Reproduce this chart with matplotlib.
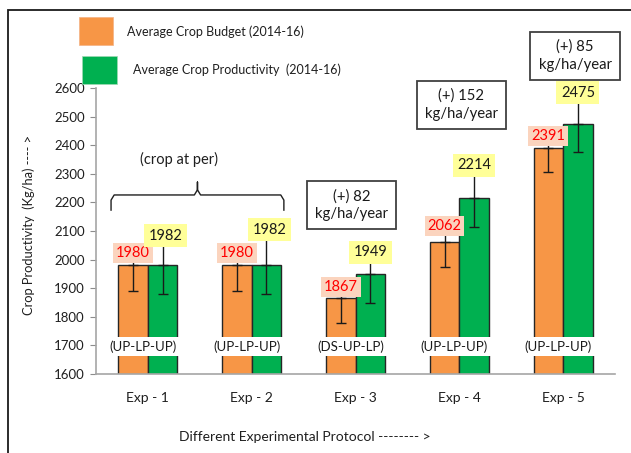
import matplotlib
matplotlib.use("Agg")
import matplotlib.pyplot as plt
from matplotlib.patches import Rectangle
import numpy as np

plt.rcParams['font.family'] = ['Lato', 'DejaVu Sans']

categories = ["Exp - 1", "Exp - 2", "Exp - 3", "Exp - 4", "Exp - 5"]
budget = [1980, 1980, 1867, 2062, 2391]
productivity = [1982, 1982, 1949, 2214, 2475]
budget_err = [89, 89, 87, 87, 85]
prod_err = [101, 101, 100, 101, 99]
protocols = ["(UP-LP-UP)", "(UP-LP-UP)", "(DS-UP-LP)", "(UP-LP-UP)", "(UP-LP-UP)"]
gain_texts = ["(+) 82\nkg/ha/year", "(+) 152\nkg/ha/year", "(+) 85\nkg/ha/year"]
gain_exps = [2, 3, 4]
legend_labels = ["Average Crop Budget (2014-16)", "Average Crop Productivity  (2014-16)"]
brace_text = "(crop at per)"

ORANGE = "#F79646"
GREEN = "#00B050"
TXT = "#1f1f1f"

W, H = 631, 453
fig = plt.figure(figsize=(W / 100, H / 100), dpi=100)

def fx(px):
    return px / W

def fy(py):
    return 1 - py / H

# frame around the figure
fig.patches.append(Rectangle((fx(8), fy(H + 5)), 1.2, fy(10) - fy(H + 5),
                             transform=fig.transFigure, fill=False,
                             edgecolor="#1a1a1a", linewidth=1.3))

ax = fig.add_axes([fx(96), fy(374), fx(615) - fx(96), fy(88) - fy(374)])
x = np.arange(len(categories))
bw = 0.285

ax.bar(x - bw / 2, budget, bw, color=ORANGE, edgecolor="#262626", linewidth=1.0, zorder=2)
ax.bar(x + bw / 2, productivity, bw, color=GREEN, edgecolor="#262626", linewidth=1.0, zorder=2)
ax.errorbar(x - bw / 2, budget, yerr=[budget_err, [0] * len(budget)], fmt="none",
            ecolor="#1a1a1a", elinewidth=1.0, capsize=3.5, capthick=1.0, zorder=3)
ax.errorbar(x + bw / 2, productivity, yerr=[prod_err, [0] * len(productivity)], fmt="none",
            ecolor="#1a1a1a", elinewidth=1.0, capsize=3.5, capthick=1.0, zorder=3)

ax.set_xlim(-0.5, len(categories) - 0.5)
ax.set_ylim(1600, 2600)
ax.set_yticks(np.arange(1600, 2601, 100))
ax.set_xticks(x)
ax.set_xticklabels(categories, fontsize=10, color=TXT)
ax.tick_params(axis="x", length=0, pad=13)
ax.tick_params(axis="y", length=4, width=0.8, color="#8c8c8c", labelsize=9.5,
               labelcolor=TXT, pad=4)
for s in ["top", "right"]:
    ax.spines[s].set_visible(False)
for s in ["left", "bottom"]:
    ax.spines[s].set_color("#a6a6a6")
    ax.spines[s].set_linewidth(1.2)

# value labels (offsets in pixels above bar tops) with leader lines
budget_off = [12, 12, 11, 16, 12]
prod_off = [29, 35, 22, 33, 31]
px_per_unit = ax.get_position().height * H / 1000.0
for i in range(len(categories)):
    xo = x[i] - bw / 2
    xg = x[i] + bw / 2
    ax.annotate(str(budget[i]), (xo, budget[i]), xytext=(0, budget_off[i]),
                textcoords="offset pixels", ha="center", va="center", fontsize=10.5,
                color="#FF0000", zorder=5, annotation_clip=False,
                bbox=dict(boxstyle="square,pad=0.2", fc="#FBD4BE", ec="none"))
    ax.annotate(str(productivity[i]), (xg, productivity[i]),
                xytext=(3 if i < 2 else 0, prod_off[i]),
                textcoords="offset pixels", ha="center", va="center", fontsize=10.5,
                color="#1a1a1a", zorder=5, annotation_clip=False,
                bbox=dict(boxstyle="square,pad=0.3", fc="#FFFF99", ec="none"))
    ax.vlines(xo, budget[i], budget[i] + budget_off[i] / px_per_unit, color="#1a1a1a",
              lw=1.0, zorder=3, clip_on=False)
    ax.vlines(xg, productivity[i], productivity[i] + prod_off[i] / px_per_unit,
              color="#1a1a1a", lw=1.0, zorder=3, clip_on=False)
    ax.annotate(protocols[i], (x[i], 1695), xytext=(-5, 0), textcoords="offset pixels",
                ha="center", va="center", fontsize=9.5, color="#1a1a1a", zorder=5,
                bbox=dict(boxstyle="square,pad=0.25", fc="white", ec="none"))

# gain boxes
gain_y = [2191, 2541, 2712]
gain_dx = [-4, 2, 12]
for t, e, gy, dx in zip(gain_texts, gain_exps, gain_y, gain_dx):
    ax.annotate(t, (x[e], gy), xytext=(dx, 0), textcoords="offset pixels",
                ha="center", va="center", fontsize=10.7,
                color="#1a1a1a", linespacing=1.35, annotation_clip=False, zorder=6,
                bbox=dict(boxstyle="square,pad=0.55", fc="white", ec="#404040", lw=1.3))

# brace over Exp-1 and Exp-2
bx0, bx1 = -0.355, 1.31
bxm = (bx0 + bx1) / 2
by_end, by_bar, by_tip = 2173, 2226, 2271
r = 0.03
brace_x = [bx0, bx0, bx0 + r, bxm - r, bxm, bxm, bxm, bxm + r, bx1 - r, bx1, bx1]
brace_y = [by_end, by_bar - 18, by_bar, by_bar, by_bar + 18, by_tip, by_bar + 18,
           by_bar, by_bar, by_bar - 18, by_end]
ax.plot(brace_x, brace_y, color=TXT, lw=1.0, clip_on=False)
ax.text(0.298, 2350, brace_text, ha="center", va="center", fontsize=10.5, color=TXT)

fig.text(fx(29), fy(225), "Crop Productivity  (Kg/ha) ---- >", rotation=90,
         ha="center", va="center", fontsize=9.3, color=TXT)
fig.text(fx(305), fy(437), "Different Experimental Protocol -------- >", ha="center",
         va="center", fontsize=10, color=TXT)

# legend
fig.patches.append(Rectangle((fx(79), fy(45)), fx(34), fy(17) - fy(45),
                             transform=fig.transFigure, fc=ORANGE, ec="#F4B183", lw=0.5))
fig.patches.append(Rectangle((fx(82), fy(84)), fx(35), fy(56) - fy(84),
                             transform=fig.transFigure, fc=GREEN, ec="#9fd9b3", lw=0.5))
fig.text(fx(127), fy(32), legend_labels[0], ha="left", va="center", fontsize=9, color=TXT)
fig.text(fx(133), fy(70), legend_labels[1], ha="left", va="center", fontsize=9, color=TXT)

fig.savefig("out.png", dpi=100)
